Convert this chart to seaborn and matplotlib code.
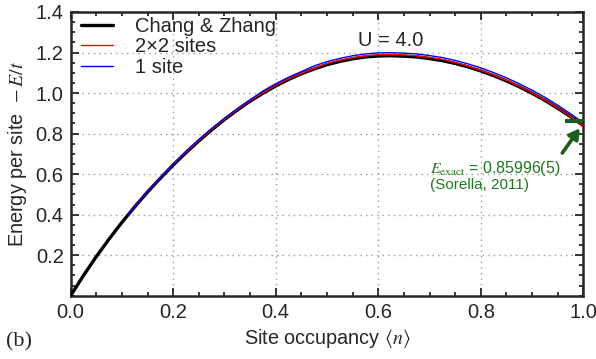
import numpy as np
import pandas as pd
import matplotlib
matplotlib.use("Agg")
import matplotlib.pyplot as plt
import seaborn as sns

# values
n_cz = [0.000, 0.025, 0.050, 0.075, 0.100, 0.125, 0.150, 0.175, 0.200, 0.225,
        0.250, 0.275, 0.300, 0.325, 0.350, 0.375, 0.400, 0.425, 0.450, 0.475,
        0.500, 0.525, 0.550, 0.575, 0.600, 0.625, 0.650, 0.675, 0.700, 0.725,
        0.750, 0.775, 0.800, 0.825, 0.850, 0.875, 0.900, 0.925, 0.950, 0.975, 1.000]
e_cz = [0.000, 0.100, 0.193, 0.280, 0.362, 0.439, 0.512, 0.580, 0.645, 0.706,
        0.764, 0.818, 0.869, 0.916, 0.960, 0.999, 1.035, 1.067, 1.095, 1.119,
        1.140, 1.156, 1.169, 1.178, 1.183, 1.184, 1.182, 1.178, 1.170, 1.160,
        1.146, 1.129, 1.109, 1.086, 1.060, 1.031, 0.999, 0.964, 0.925, 0.884, 0.840]

n_dmet = [0.112, 0.125, 0.150, 0.175, 0.200, 0.225, 0.250, 0.275, 0.300, 0.325,
          0.350, 0.375, 0.400, 0.425, 0.450, 0.475, 0.500, 0.525, 0.550, 0.575,
          0.600, 0.625, 0.650, 0.675, 0.700, 0.725, 0.750, 0.775, 0.800, 0.825,
          0.850, 0.875, 0.900, 0.925, 0.950, 0.975, 1.000]
e_2x2 = [0.400, 0.442, 0.515, 0.583, 0.648, 0.709, 0.767, 0.821, 0.872, 0.919,
         0.963, 1.002, 1.038, 1.070, 1.098, 1.122, 1.146, 1.162, 1.175, 1.184,
         1.189, 1.190, 1.188, 1.184, 1.176, 1.166, 1.151, 1.133, 1.112, 1.089,
         1.063, 1.033, 1.001, 0.965, 0.926, 0.884, 0.838]
e_1site = [0.401, 0.443, 0.516, 0.584, 0.649, 0.713, 0.771, 0.825, 0.876, 0.923,
           0.967, 1.010, 1.046, 1.078, 1.106, 1.134, 1.155, 1.171, 1.184, 1.193,
           1.198, 1.199, 1.197, 1.193, 1.185, 1.175, 1.161, 1.144, 1.124, 1.101,
           1.075, 1.046, 1.014, 0.979, 0.940, 0.898, 0.853]

labels = ["Chang & Zhang", "2\u00d72 sites", "1 site"]
e_exact = 0.86

sns.set_style("ticks")
plt.rcParams["font.family"] = ["Liberation Sans", "DejaVu Sans"]
plt.rcParams["mathtext.fontset"] = "stix"

fig = plt.figure(figsize=(5.96, 3.59), dpi=100)
ax = fig.add_axes([0.1186, 0.1763, 0.8601, 0.7903])

sns.lineplot(x=n_cz, y=e_cz, ax=ax, color="black", lw=2.4, label=labels[0], zorder=3)
sns.lineplot(x=n_dmet, y=e_2x2, ax=ax, color="#ff0000", lw=1.0, label=labels[1], zorder=4)
sns.lineplot(x=n_dmet, y=e_1site, ax=ax, color="#0000ff", lw=1.0, label=labels[2], zorder=5)
for ln in ax.lines:
    ln.set_solid_joinstyle("round")

ax.set_xlim(0, 1.0)
ax.set_ylim(0, 1.4)
ax.set_xticks(np.arange(0, 1.01, 0.2))
ax.set_yticks(np.arange(0.2, 1.41, 0.2))
ax.set_xticks(np.arange(0, 1.01, 0.05), minor=True)
ax.set_yticks(np.arange(0, 1.41, 0.05), minor=True)
ax.xaxis.set_major_formatter(matplotlib.ticker.FormatStrFormatter("%.1f"))
ax.yaxis.set_major_formatter(matplotlib.ticker.FormatStrFormatter("%.1f"))
ax.tick_params(which="both", direction="in", top=True, right=True, width=1.3,
               labelsize=14.5, pad=5)
ax.tick_params(which="major", length=5.5)
ax.tick_params(which="minor", length=3)
for s in ax.spines.values():
    s.set_linewidth(1.8)
ax.grid(True, which="major", color="#9a9a9a", linestyle=(0, (1, 3)), lw=1.0)

ax.set_xlabel(r"Site occupancy $\langle n \rangle$", fontsize=14.3, labelpad=4)
ax.set_ylabel(r"Energy per site  $-\,E/t$", fontsize=14.3, labelpad=5)

ax.legend(loc="upper left", bbox_to_anchor=(0.016, 0.99), frameon=False,
          fontsize=14.5, labelspacing=0.08, handlelength=1.6, handletextpad=1.1,
          borderpad=0.1, borderaxespad=0)

ax.text(0.625, 1.258, "U = 4.0", ha="center", va="center", fontsize=14.5)

green = "#1e7a1e"
ax.plot([0.965, 1.0], [e_exact, e_exact], color="#1a5e1a", lw=3, solid_capstyle="butt",
        clip_on=False, zorder=6)
ax.annotate("", xy=(0.993, 0.826), xytext=(0.959, 0.704),
            arrowprops=dict(arrowstyle="-|>,head_length=0.6,head_width=0.35",
                            color="#1a5e1a", lw=2.6, shrinkA=0, shrinkB=0))
ax.text(0.70, 0.628, r"$E_\mathrm{exact}$ = 0.85996(5)", color=green, fontsize=11.5,
        ha="left", va="center")
ax.text(0.70, 0.545, "(Sorella, 2011)", color=green, fontsize=11, ha="left", va="center")

fig.text(0.010, 0.047, "(b)", fontsize=16, family="Liberation Serif", va="center")

fig.savefig("out.png", dpi=100)
